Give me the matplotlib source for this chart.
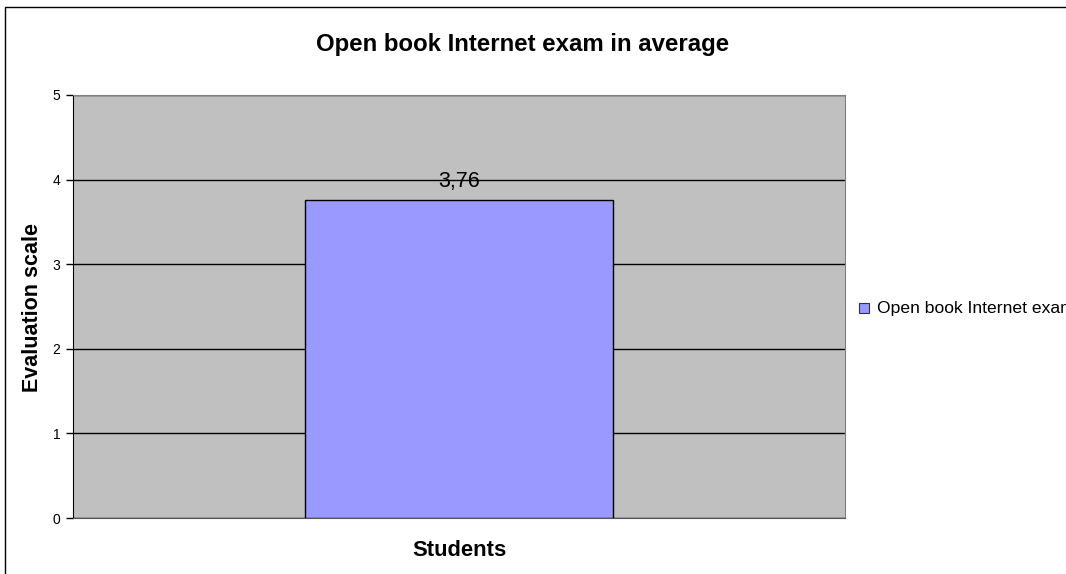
import matplotlib
matplotlib.use("Agg")
import matplotlib.pyplot as plt
from matplotlib.patches import Rectangle

plt.rcParams['font.family'] = ['Liberation Sans', 'DejaVu Sans']

series_name = "Open book Internet exam"
categories = ["Students"]
values = [3.76]
value_labels = ["3,76"]
y_ticks = [0, 1, 2, 3, 4, 5]

W, H = 1066, 574
fig = plt.figure(figsize=(W/100, H/100), dpi=100)
ax = fig.add_axes([73/W, 1-518/H, 772/W, 423/H])
ax.set_facecolor("#c0c0c0")

bars = ax.bar([0], values, width=0.4, color="#9999ff", edgecolor="black",
              linewidth=1.0, zorder=3)
for b, lab in zip(bars, value_labels):
    ax.text(b.get_x() + b.get_width()/2, b.get_height() + 0.09, lab,
            ha="center", va="bottom", fontsize=15.5, zorder=4)

ax.set_xlim(-0.5, 0.5)
ax.set_ylim(0, 5)
ax.set_yticks(y_ticks)
ax.set_yticklabels([str(t) for t in y_ticks], fontsize=10)
ax.set_xticks([])
ax.yaxis.grid(True, color="black", linewidth=1.0, zorder=1)
ax.set_axisbelow(True)
ax.tick_params(axis="y", direction="out", length=5, width=1, pad=4)

ax.spines["left"].set_color("black")
ax.spines["bottom"].set_color("#555555")
ax.spines["right"].set_color("#808080")
ax.spines["top"].set_color("#808080")

fig.text(459/W, 1-550/H, categories[0], ha="center", va="center",
         fontsize=15.8, fontweight="bold")
fig.text(33/W, 1-308/H, "Evaluation scale", ha="center", va="center",
         rotation=90, fontsize=15.5, fontweight="bold")
fig.text(523/W, 1-44/H, "Open book Internet exam in average",
         ha="center", va="center", fontsize=17.3, fontweight="bold")

# legend drawn manually so its label runs off the right edge
fig.patches.append(Rectangle((859/W, 1-313/H), 10/W, 10/H,
                             transform=fig.transFigure, facecolor="#9999ff",
                             edgecolor="#333333", linewidth=0.8))
fig.text(877/W, 1-308/H, series_name, ha="left", va="center", fontsize=12.6)

# outer chart border
fig.patches.append(Rectangle((5/W, -0.01), 1.05, 1 - 7/H + 0.01,
                             transform=fig.transFigure, fill=False,
                             edgecolor="black", linewidth=1.0))

fig.savefig("out.png", dpi=100)
